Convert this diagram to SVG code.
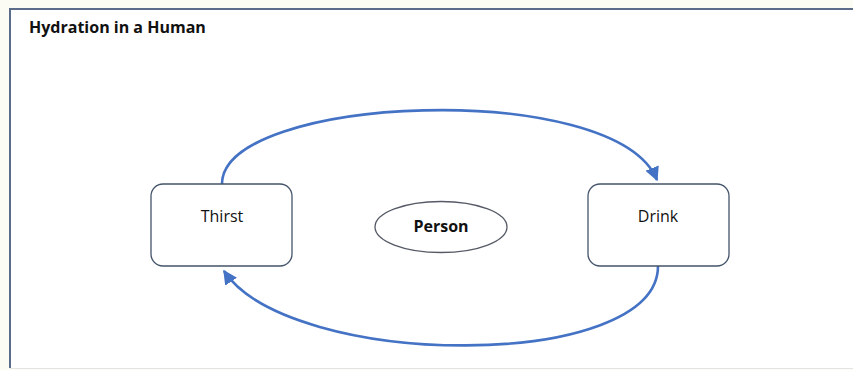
<svg xmlns="http://www.w3.org/2000/svg" width="853" height="370" viewBox="0 0 853 370">
  <defs>
    <style>
      .frame { fill: #ffffff; stroke: none; }
      .edge { stroke: #5b6b8a; stroke-width: 2; fill: none; }
      .box { fill: #ffffff; stroke: #44546a; stroke-width: 1.3; }
      .ell { fill: #ffffff; stroke: #555a66; stroke-width: 1.3; }
      .conn { fill: none; stroke: #4472c4; stroke-width: 2.6; }
      .lbl { font-family: "Open Sans", "Liberation Sans", sans-serif; font-size: 16px; fill: #111111; text-anchor: middle; }
      .title { font-family: "Open Sans", "Liberation Sans", sans-serif; font-size: 16px; font-weight: bold; fill: #111111; }
    </style>
    <marker id="arrow" viewBox="0 0 10 10" refX="9" refY="5" markerWidth="5.5" markerHeight="5.5" markerUnits="strokeWidth" orient="auto">
      <path d="M0,0 L10,5 L0,10 z" fill="#4472c4"/>
    </marker>
  </defs>
  <rect x="0" y="0" width="853" height="370" fill="#fbfcf4"/>
  <rect class="frame" x="10" y="9" width="843" height="359"/>
  <path class="edge" d="M10,368 L10,9 L853,9"/>
  <line x1="10" y1="368.5" x2="853" y2="368.5" stroke="#e4e4e4" stroke-width="1"/>
  <text class="title" x="29" y="33">Hydration in a Human</text>

  <g id="connectors">
    <path class="conn" d="M222,184 C222,95 615,78 657,180" marker-end="url(#arrow)"/>
    <path class="conn" d="M658,266 C658,372 290,370 224,271" marker-end="url(#arrow)"/>
  </g>

  <g id="thirst">
    <rect class="box" x="151" y="184" width="141" height="82" rx="12"/>
    <text class="lbl" x="222" y="222">Thirst</text>
  </g>
  <g id="person">
    <ellipse class="ell" cx="441" cy="227" rx="66" ry="25.5"/>
    <text class="lbl" x="441" y="232" font-weight="bold">Person</text>
  </g>
  <g id="drink">
    <rect class="box" x="588" y="184" width="141" height="82" rx="12"/>
    <text class="lbl" x="658" y="222">Drink</text>
  </g>
</svg>
